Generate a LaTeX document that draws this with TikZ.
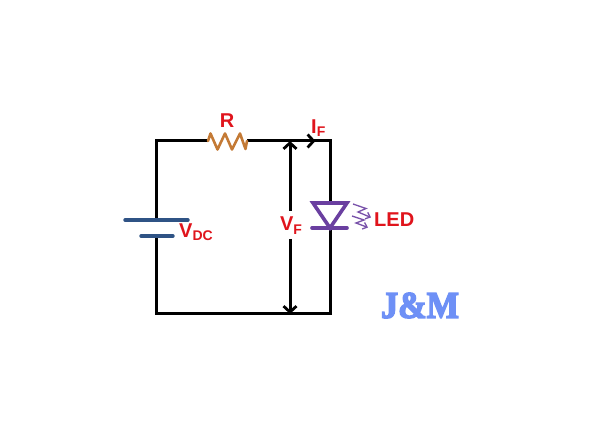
\documentclass[tikz,border=0pt]{standalone}
\usepackage{fontspec}
\setmainfont{Liberation Sans}
\newfontfamily\logofont[FakeBold=4]{Liberation Serif Bold}
\usetikzlibrary{arrows.meta}
\definecolor{lblred}{HTML}{E0141C}
\definecolor{plate}{HTML}{2F5385}
\definecolor{ledpurple}{HTML}{6A3FA0}
\definecolor{resbrown}{HTML}{C47A35}
\definecolor{logoblue}{HTML}{6E90F6}
\tikzset{
  wire/.style={draw=black,line width=3pt,line cap=butt,line join=miter},
  plateline/.style={draw=plate,line width=3.4pt,line cap=round},
  ledline/.style={draw=ledpurple,line width=3.6pt},
  ray/.style={draw=ledpurple!90,line width=1.3pt,-{Straight Barb[length=4pt,width=7pt]}},
  lbl/.style={text=lblred,font=\fontsize{20}{20}\selectfont\bfseries,inner sep=0pt},
  chev/.style={draw=black,line width=3pt,-{Straight Barb[length=6pt,width=13pt,line width=2.8pt]}},
}
\newcommand{\subs}[1]{\raisebox{-3.5pt}{\fontsize{14}{14}\selectfont\bfseries #1}}
\begin{document}
\begin{tikzpicture}[x=1pt,y=-1pt]
\useasboundingbox[fill=white] (0,0) rectangle (600,443);
% corners
\coordinate (tl) at (156,141);
\coordinate (tr) at (330,141);
\coordinate (bl) at (156,314);
\coordinate (br) at (330,314);
\coordinate (mt) at (290,141);
\coordinate (mb) at (290,314);
\coordinate (rl) at (208,141);
\coordinate (rr) at (247,141);
\coordinate (bt) at (156,220);
\coordinate (bb) at (156,236);
\coordinate (lt) at (330,202);
\coordinate (lb) at (330,228);
% wires
\draw[wire] (rl) -- (tl) -- (bt);
\draw[wire] (bb) -- (bl) -- (br) -- (lb);
\draw[wire] (lt) -- (tr) -- (rr);
% resistor
\draw[draw=resbrown,line width=2.6pt,line join=round,line cap=round] (rl) -- (210.5,133.5) -- (217.5,149.5) -- (225,133.5) -- (232,149.5) -- (240,133.5) -- (245.5,149) -- (rr);
% battery
\draw[plateline] (125,220) -- (188,220);
\draw[plateline] (141,236) -- (173,236);
% LED
\draw[ledline,line join=miter] (313,203) -- (347,203) -- (lb) -- cycle;
\draw[ledline,line cap=round] (312,228) -- (347,228);
\draw[ray] (353,204) -- (366,208.5) -- (358,212) -- (371,217.5);
\draw[ray] (352,216) -- (364,220) -- (356,223) -- (368,227.5);
% arrows
\coordinate (ia) at (306,141);
\coordinate (ib) at (315.5,141);
\draw[chev] (ia) -- (ib);
% labels
\node[lbl] (R) at (227,121) {R};
\node[lbl,anchor=west] (VDC) at (179,232) {V\subs{DC}};
\node[lbl,anchor=west] (IF) at (311,128) {I\subs{F}};
\node[lbl,anchor=center] (VF) at (291,225.5) {V\subs{F}};
\node[lbl,anchor=west] (LED) at (374,220) {LED};
\draw[chev] (290,211) -- (mt);
\draw[chev] (290,239) -- (mb);
% logo
\node[inner sep=0pt,text=logoblue] (logo) at (420,305.5) {\resizebox{78pt}{25pt}{\logofont J\&M}};
\end{tikzpicture}
\end{document}
